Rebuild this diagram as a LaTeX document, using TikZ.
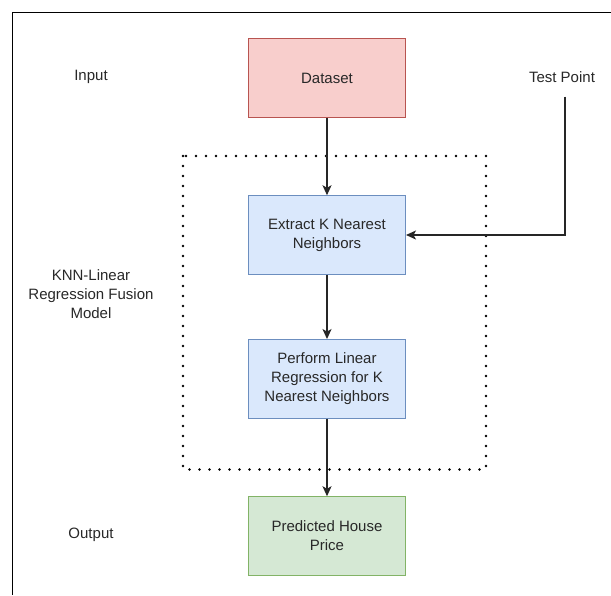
\documentclass[tikz,border=0pt]{standalone}
\usepackage{fontspec}
\setmainfont{Liberation Sans}
\usetikzlibrary{arrows.meta}
\definecolor{txt}{RGB}{40,40,40}
\definecolor{redfill}{HTML}{F8CECC}
\definecolor{redline}{HTML}{B85450}
\definecolor{bluefill}{HTML}{DAE8FC}
\definecolor{blueline}{HTML}{6C8EBF}
\definecolor{greenfill}{HTML}{D5E8D4}
\definecolor{greenline}{HTML}{82B366}
\tikzset{
  box/.style={rectangle, minimum width=157pt, minimum height=78.5pt, line width=1pt, align=center, text=txt, font=\fontsize{15}{18.8}\selectfont, inner sep=0pt},
  lbl/.style={align=center, text=txt, font=\fontsize{15}{18.8}\selectfont, inner sep=0pt},
  conn/.style={line width=1.3pt, draw=black!85, -{Stealth[length=10pt,width=9pt,inset=2.5pt]}},
}
\begin{document}
\begin{tikzpicture}[x=1pt,y=-1pt]
\useasboundingbox (0,0) rectangle (611,595);
\fill[white] (0,0) rectangle (611,595);
% frame (cropped)
\draw[line width=1.3pt] (611,12.7) -- (12.5,12.7) -- (12.5,595);
% dotted container
\draw[line width=2.8pt, line cap=round, dash pattern=on 0pt off 10pt, black] (183,156) rectangle (486,469.5);
% boxes
\node[box, fill=redfill, draw=redline] (ds) at (327,78) {Dataset};
\node[box, fill=bluefill, draw=blueline] (ex) at (327,235) {Extract K Nearest\\Neighbors};
\node[box, fill=bluefill, draw=blueline] (lr) at (327,378.8) {Perform Linear\\Regression for K\\Nearest Neighbors};
\node[box, fill=greenfill, draw=greenline] (pr) at (327,536) {Predicted House\\Price};
% labels
\node[lbl] (in) at (91,77) {Input};
\node[lbl] (tp) at (562,77) {Test Point};
\node[lbl] (knn) at (91,294) {KNN-Linear\\Regression Fusion\\Model};
\node[lbl] (out) at (91,535) {Output};
\coordinate (tpc) at (565,235);
% connectors
\draw[conn] (ds) -- (ex);
\draw[conn] (ex) -- (lr);
\draw[conn] (lr) -- (pr);
\draw[conn] (tp.south -| tpc) ++(0,14) -- (tpc) -- (ex.east);
\end{tikzpicture}
\end{document}
